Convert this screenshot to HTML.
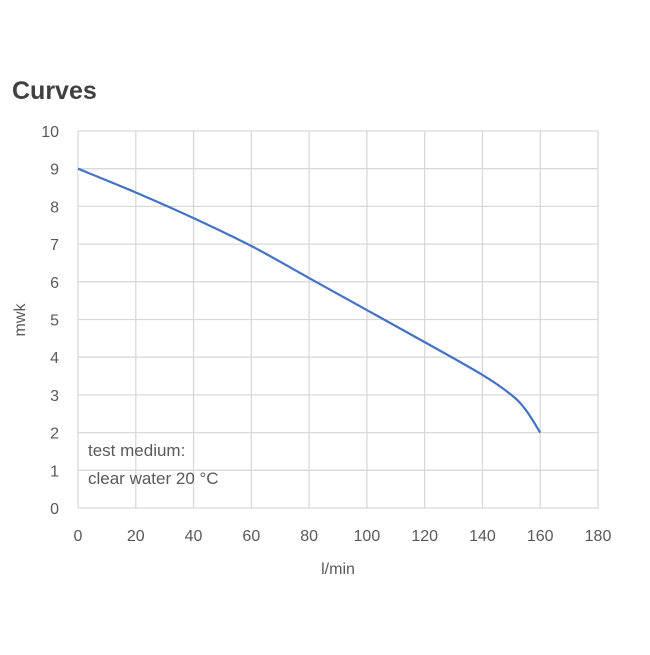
<!DOCTYPE html>
<html><head><meta charset="utf-8"><style>
body{margin:0;background:#fff;}
svg text{font-family:"Liberation Sans",sans-serif;}
</style></head><body>
<svg id="chart" width="650" height="650" xmlns="http://www.w3.org/2000/svg">
<text x="12" y="99" font-size="25" font-weight="bold" fill="#404040">Curves</text>
<g id="grid"></g>
<g id="ticks"></g>
<text x="338" y="574" font-size="16" fill="#595959" text-anchor="middle">l/min</text>
<text x="0" y="0" font-size="16" fill="#595959" text-anchor="middle" transform="translate(25,320) rotate(-90)">mwk</text>
<text x="88" y="456" font-size="17" fill="#595959">test medium:</text>
<text x="88" y="484" font-size="17" fill="#595959">clear water 20 °C</text>
<path id="curve" fill="none" stroke="#4472c4" stroke-width="2.2"/>
</svg>
<script>
const xTicks=[0,20,40,60,80,100,120,140,160,180];
const yTicks=[0,1,2,3,4,5,6,7,8,9,10];
const flowValues=[0,20,40,60,80,100,120,140,150,155,160];
const headValues=[9,8.37,7.69,6.95,6.1,5.25,4.4,3.53,3.0,2.6,2.0];
const L=78,R=598,T=131,B=508;
function sx(v){return L+(v-0)/(180-0)*(R-L);}
function sy(v){return B-(v-0)/(10-0)*(B-T);}
const ns="http://www.w3.org/2000/svg";
const grid=document.getElementById('grid'),ticks=document.getElementById('ticks');
xTicks.forEach(v=>{
 const l=document.createElementNS(ns,'line');
 l.setAttribute('x1',sx(v));l.setAttribute('x2',sx(v));l.setAttribute('y1',T);l.setAttribute('y2',B);
 l.setAttribute('stroke','#d9d9d9');l.setAttribute('stroke-width','1.3');
 
 
 grid.appendChild(l);
 const t=document.createElementNS(ns,'text');
 t.setAttribute('x',sx(v));t.setAttribute('y',B+33);t.setAttribute('text-anchor','middle');
 t.setAttribute('font-size','16');t.setAttribute('fill','#595959');t.textContent=v;
 
 
 ticks.appendChild(t);
});
yTicks.forEach(v=>{
 const l=document.createElementNS(ns,'line');
 l.setAttribute('x1',L);l.setAttribute('x2',R);l.setAttribute('y1',sy(v));l.setAttribute('y2',sy(v));
 l.setAttribute('stroke','#d9d9d9');l.setAttribute('stroke-width','1.3');
 
 
 grid.appendChild(l);
 const t=document.createElementNS(ns,'text');
 t.setAttribute('x',L-19);t.setAttribute('y',sy(v)+6);t.setAttribute('text-anchor','end');
 t.setAttribute('font-size','16');t.setAttribute('fill','#595959');t.textContent=v;
 
 
 ticks.appendChild(t);
});
const pts=flowValues.map((f,i)=>[sx(f),sy(headValues[i])]);
let d='M'+pts[0][0]+','+pts[0][1];
for(let i=0;i<pts.length-1;i++){
 const p0=pts[Math.max(i-1,0)],p1=pts[i],p2=pts[i+1],p3=pts[Math.min(i+2,pts.length-1)];
 const c1=[p1[0]+(p2[0]-p0[0])/6,p1[1]+(p2[1]-p0[1])/6];
 const c2=[p2[0]-(p3[0]-p1[0])/6,p2[1]-(p3[1]-p1[1])/6];
 d+=' C'+c1[0]+','+c1[1]+' '+c2[0]+','+c2[1]+' '+p2[0]+','+p2[1];
}
document.getElementById('curve').setAttribute('d',d);
</script>
</body></html>
